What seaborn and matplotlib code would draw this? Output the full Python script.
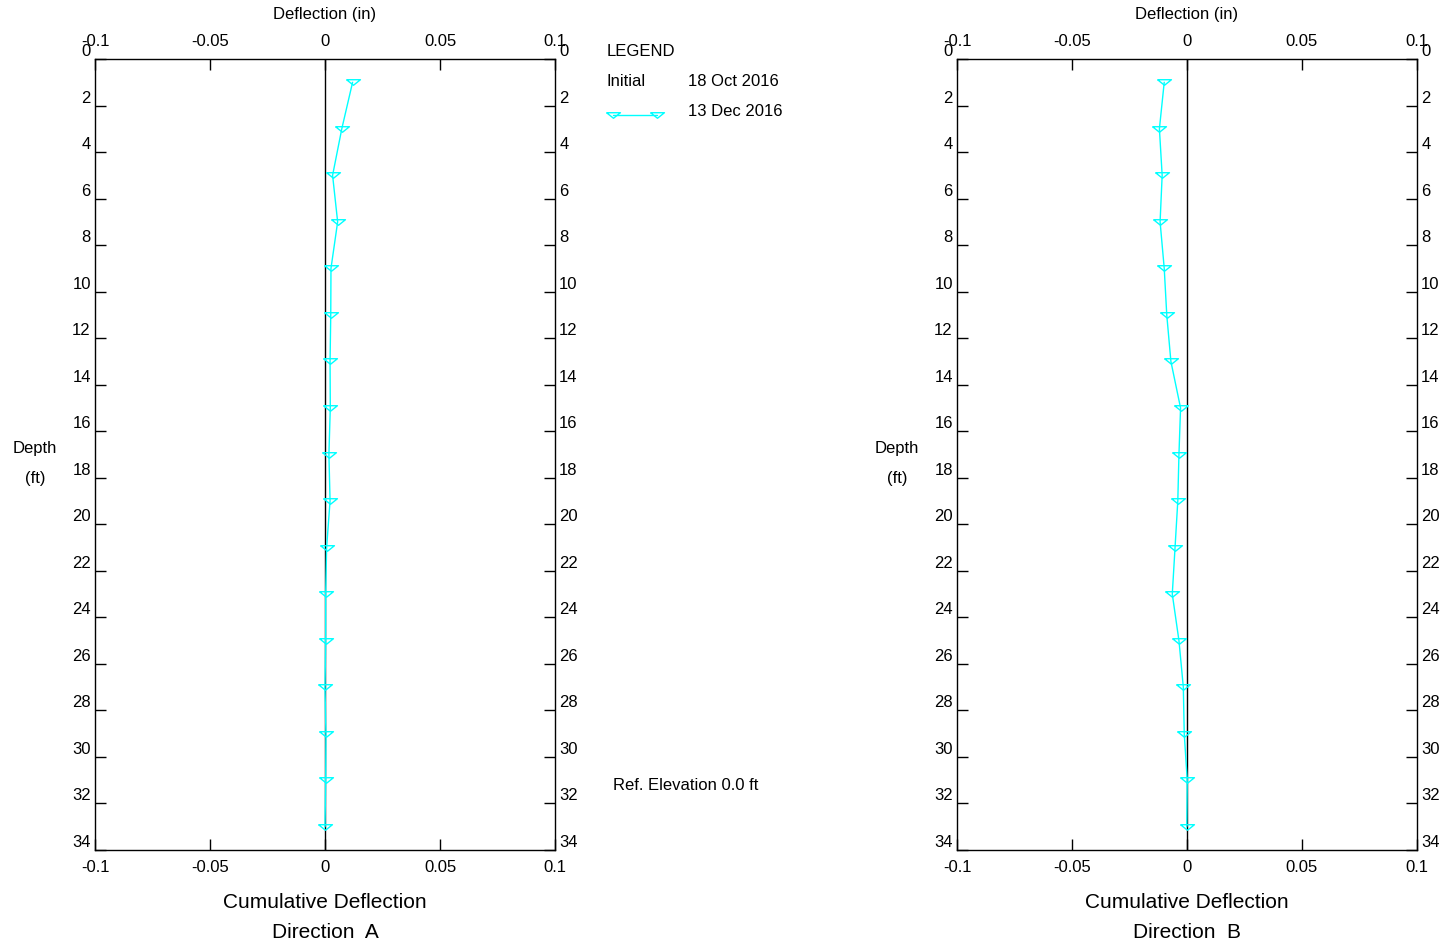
import matplotlib
matplotlib.use("Agg")
import matplotlib.pyplot as plt
from matplotlib.lines import Line2D
import seaborn as sns
import numpy as np

sns.set_theme(style="white")
plt.rcParams['font.family'] = ['Liberation Sans', 'DejaVu Sans']
plt.rcParams['text.color'] = 'black'
plt.rcParams['xtick.color'] = 'black'
plt.rcParams['ytick.color'] = 'black'

depth = [1, 3, 5, 7, 9, 11, 13, 15, 17, 19, 21, 23, 25, 27, 29, 31, 33]
defl_a = [0.012, 0.0073, 0.0033, 0.0055, 0.0026, 0.0025, 0.0022, 0.0023, 0.0017,
          0.0022, 0.0007, 0.0003, 0.0003, 0.0, 0.0004, 0.0003, 0.0]
defl_b = [-0.0099, -0.012, -0.0108, -0.0117, -0.0099, -0.0088, -0.007, -0.0028, -0.0035,
          -0.004, -0.0052, -0.0064, -0.0035, -0.0016, -0.0012, 0.0001, -0.0001]
x_ticks = [-0.1, -0.05, 0, 0.05, 0.1]
x_ticklabels = ["-0.1", "-0.05", "0", "0.05", "0.1"]
y_ticks = list(range(0, 35, 2))
directions = ["A", "B"]
legend_dates = ["18 Oct 2016", "13 Dec 2016"]

W, H = 1442, 947
fig = plt.figure(figsize=(W / 100, H / 100), dpi=100)
fig.patch.set_facecolor("white")

cyan = "#00FFFF"
small = 12
big = 15

# flat downward triangle marker (top bar with shallow V below)
flat_tri = [(-1.0, 0.4), (1.0, 0.4), (0.0, -0.4), (-1.0, 0.4)]
mk_size = 10

def fx(px):
    return px / W

def fy(py):
    return 1 - py / H

lefts = [95, 957]
for left, defl, d in zip(lefts, [defl_a, defl_b], directions):
    ax = fig.add_axes([fx(left), fy(850), 460 / W, 791 / H])
    ax.set_facecolor("white")
    ax.axvline(0, color="black", lw=1.0, zorder=1)
    sns.lineplot(x=defl, y=depth, orient="y", sort=False, ax=ax, color=cyan,
                 lw=1.0, marker=flat_tri, markersize=mk_size, markerfacecolor="none",
                 markeredgecolor=cyan, markeredgewidth=1.0, zorder=3)
    ax.set_xlim(-0.1, 0.1)
    ax.set_ylim(34, 0)
    ax.set_xticks(x_ticks)
    ax.set_xticklabels(x_ticklabels)
    ax.set_yticks(y_ticks)
    ax.set_yticklabels([str(v) for v in y_ticks])
    ax.tick_params(direction="in", length=8, width=1, color="black",
                   top=True, right=True, bottom=True, left=True,
                   labeltop=True, labelright=True, labelbottom=True, labelleft=True,
                   labelsize=small, labelcolor="black")
    ax.tick_params(axis="x", pad=7)
    ax.tick_params(axis="y", pad=3)
    for lbl in ax.get_yticklabels():
        lbl.set_va("bottom")
    for sp in ax.spines.values():
        sp.set_color("black")
        sp.set_linewidth(1.0)
    ax.set_xlabel("")
    ax.set_ylabel("")
    cx = left + 230
    fig.text(fx(cx), fy(15), "Deflection (in)", ha="center", va="center", fontsize=small)
    fig.text(fx(cx), fy(902), "Cumulative Deflection", ha="center", va="center", fontsize=big)
    fig.text(fx(cx), fy(932), "Direction  " + d, ha="center", va="center", fontsize=big)
    fig.text(fx(left - 60), fy(448), "Depth", ha="center", va="center", fontsize=small)
    fig.text(fx(left - 60), fy(478), "(ft)", ha="center", va="center", fontsize=small)

# Legend block
fig.text(fx(607), fy(51), "LEGEND", ha="left", va="center", fontsize=small)
fig.text(fx(607), fy(81), "Initial", ha="left", va="center", fontsize=small)
fig.text(fx(688), fy(81), legend_dates[0], ha="left", va="center", fontsize=small)
fig.text(fx(688), fy(111), legend_dates[1], ha="left", va="center", fontsize=small)
fig.add_artist(Line2D([fx(613), fx(657)], [fy(115), fy(115)], transform=fig.transFigure,
                      color=cyan, lw=1.0, marker=flat_tri, markersize=mk_size,
                      markerfacecolor="none", markeredgecolor=cyan, markeredgewidth=1.0))
fig.text(fx(613), fy(785), "Ref. Elevation 0.0 ft", ha="left", va="center", fontsize=small)

fig.savefig("out.png", dpi=100, facecolor="white")
